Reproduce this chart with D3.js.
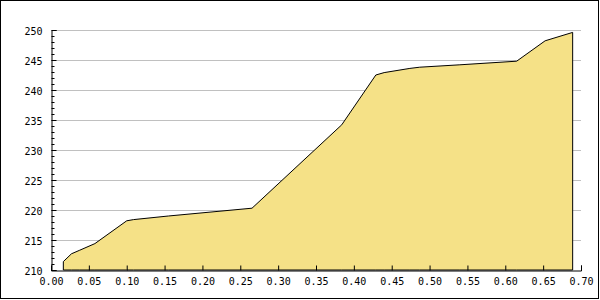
<!DOCTYPE html>
<html>
<head>
<meta charset="utf-8">
<script src="https://cdn.jsdelivr.net/npm/d3@7"></script>
<style>
  body { margin: 0; background: #fff; }
  svg text { font-family: "DejaVu Sans Mono", monospace; font-size: 10px; fill: #000; }
</style>
</head>
<body>
<div id="chart"></div>
<script>
// data
var xValues = [0.0163, 0.027, 0.038, 0.058, 0.100, 0.109, 0.155, 0.2655, 0.384, 0.429, 0.44, 0.474, 0.487, 0.540, 0.615, 0.6526, 0.689];
var yValues = [211.4, 212.7, 213.3, 214.4, 218.2, 218.4, 219.0, 220.3, 234.2, 242.5, 242.9, 243.6, 243.8, 244.2, 244.8, 248.2, 249.6];
var xTicks = [0, 0.05, 0.10, 0.15, 0.20, 0.25, 0.30, 0.35, 0.40, 0.45, 0.50, 0.55, 0.60, 0.65, 0.70];
var yTicks = [210, 215, 220, 225, 230, 235, 240, 245, 250];

var width = 600, height = 300;
var margin = {top: 30, right: 19, bottom: 30, left: 51};

var svg = d3.select("#chart").append("svg")
  .attr("width", width)
  .attr("height", height);

// outer frame
svg.append("rect")
  .attr("x", 0.5).attr("y", 0.5)
  .attr("width", 598).attr("height", 298)
  .attr("fill", "#fff")
  .attr("stroke", "#000");

var x = d3.scaleLinear().domain([0, 0.70]).range([margin.left, width - margin.right]);
var y = d3.scaleLinear().domain([210, 250]).range([height - margin.bottom, margin.top]);

var data = xValues.map(function(d, i) { return [d, yValues[i]]; });

// grid lines
svg.append("g")
  .selectAll("line")
  .data(yTicks.slice(1))
  .enter().append("line")
    .attr("x1", x(0)).attr("x2", x(0.70))
    .attr("y1", function(d) { return Math.round(y(d)) + 0.5; })
    .attr("y2", function(d) { return Math.round(y(d)) + 0.5; })
    .attr("stroke", "#c0c0c0");

// area
var area = d3.area()
  .x(function(d) { return x(d[0]); })
  .y0(y(210))
  .y1(function(d) { return y(d[1]); });

svg.append("path")
  .datum(data)
  .attr("fill", "#f5e187")
  .attr("stroke", "#000")
  .attr("stroke-width", 1)
  .attr("d", area);

// y axis
var yAxis = d3.axisLeft(y)
  .tickValues(yTicks)
  .tickSize(-5)
  .tickPadding(9)
  .tickFormat(d3.format("d"));

var gy = svg.append("g")
  .attr("transform", "translate(" + (x(0) + 0.5) + ",0)")
  .call(yAxis);
gy.select(".domain").attr("stroke", "#000");
gy.selectAll("text").attr("dy", "0.4em");

// y minor ticks
gy.selectAll(".minor")
  .data(d3.range(210, 251).filter(function(d) { return d % 5 != 0; }))
  .enter().append("line")
    .attr("class", "minor")
    .attr("x1", 0).attr("x2", 3)
    .attr("y1", function(d) { return Math.round(y(d)) + 0.5; })
    .attr("y2", function(d) { return Math.round(y(d)) + 0.5; })
    .attr("stroke", "#000");

// x axis
var xAxis = d3.axisBottom(x)
  .tickValues(xTicks)
  .tickSize(-5)
  .tickPadding(7)
  .tickFormat(d3.format(".2f"));

var gx = svg.append("g")
  .attr("transform", "translate(0," + (y(210) + 0.5) + ")")
  .call(xAxis);
gx.select(".domain").attr("stroke", "#000");
gx.selectAll("text").attr("dy", "0.71em");
</script>
</body>
</html>
